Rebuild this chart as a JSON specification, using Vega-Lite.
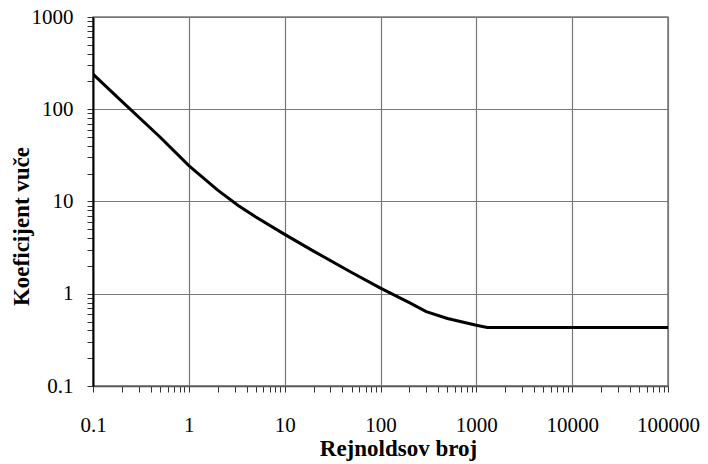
{
  "$schema": "https://vega.github.io/schema/vega-lite/v6.json",
  "width": 575,
  "height": 369,
  "autosize": {"type": "none"},
  "padding": {"left": 93, "top": 17, "right": 40, "bottom": 78},
  "background": "white",
  "config": {
    "view": {"stroke": "#777777", "strokeWidth": 1.5},
    "font": "Liberation Serif"
  },
  "data": {
    "values": [
      {"re": 0.1, "cd": 240},
      {"re": 0.2, "cd": 122},
      {"re": 0.5, "cd": 50},
      {"re": 1, "cd": 24.5},
      {"re": 2, "cd": 13.3},
      {"re": 3.3, "cd": 9},
      {"re": 5, "cd": 6.8},
      {"re": 10, "cd": 4.4},
      {"re": 20, "cd": 2.9},
      {"re": 50, "cd": 1.7},
      {"re": 100, "cd": 1.15},
      {"re": 200, "cd": 0.8},
      {"re": 300, "cd": 0.64},
      {"re": 500, "cd": 0.54},
      {"re": 1000, "cd": 0.455},
      {"re": 1300, "cd": 0.43},
      {"re": 100000, "cd": 0.43}
    ]
  },
  "mark": {"type": "line", "color": "black", "strokeWidth": 3, "clip": true},
  "encoding": {
    "x": {
      "field": "re",
      "type": "quantitative",
      "scale": {"type": "log", "domain": [0.1, 100000], "nice": false},
      "axis": {
        "title": "Rejnoldsov broj",
        "titleFont": "Liberation Serif",
        "titleFontSize": 23,
        "titleFontWeight": "bold",
        "titleColor": "black",
        "titleX": 305,
        "titleY": 69,
        "titleBaseline": "alphabetic",
        "values": [0.1,0.2,0.3,0.4,0.5,0.6,0.7,0.8,0.9,1,2,3,4,5,6,7,8,9,10,20,30,40,50,60,70,80,90,100,200,300,400,500,600,700,800,900,1000,2000,3000,4000,5000,6000,7000,8000,9000,10000,20000,30000,40000,50000,60000,70000,80000,90000,100000],
        "format": "~g",
        "labelExpr": "abs(log(datum.value)/LN10 - round(log(datum.value)/LN10)) < 1e-6 ? datum.label : ''",
        "labelFont": "Liberation Serif",
        "labelFontSize": 21,
        "labelColor": "black",
        "labelPadding": 22,
        "labelFlush": false,
        "labelOverlap": false,
        "tickSize": 6,
        "tickColor": "#333333",
        "tickWidth": 1,
        "domainColor": "#555555",
        "domainWidth": 1.5,
        "grid": true,
        "gridColor": "#777777",
        "gridWidth": 1.2,
        "gridOpacity": {"condition": {"test": "abs(log(datum.value)/LN10 - round(log(datum.value)/LN10)) < 1e-6", "value": 1}, "value": 0}
      }
    },
    "y": {
      "field": "cd",
      "type": "quantitative",
      "scale": {"type": "log", "domain": [0.1, 1000], "nice": false},
      "axis": {
        "title": "Koeficijent vuče",
        "titleFont": "Liberation Serif",
        "titleFontSize": 23,
        "titleFontWeight": "bold",
        "titleColor": "black",
        "titleX": -60,
        "titleY": 209,
        "values": [0.1,0.2,0.3,0.4,0.5,0.6,0.7,0.8,0.9,1,2,3,4,5,6,7,8,9,10,20,30,40,50,60,70,80,90,100,200,300,400,500,600,700,800,900,1000],
        "format": "~g",
        "labelExpr": "abs(log(datum.value)/LN10 - round(log(datum.value)/LN10)) < 1e-6 ? datum.label : ''",
        "labelFont": "Liberation Serif",
        "labelFontSize": 21,
        "labelColor": "black",
        "labelPadding": 14,
        "labelFlush": false,
        "labelOverlap": false,
        "tickSize": 6,
        "tickColor": "#333333",
        "tickWidth": 1,
        "domainColor": "black",
        "domainWidth": 2,
        "grid": true,
        "gridColor": "#777777",
        "gridWidth": 1.2,
        "gridOpacity": {"condition": {"test": "abs(log(datum.value)/LN10 - round(log(datum.value)/LN10)) < 1e-6", "value": 1}, "value": 0}
      }
    }
  }
}
